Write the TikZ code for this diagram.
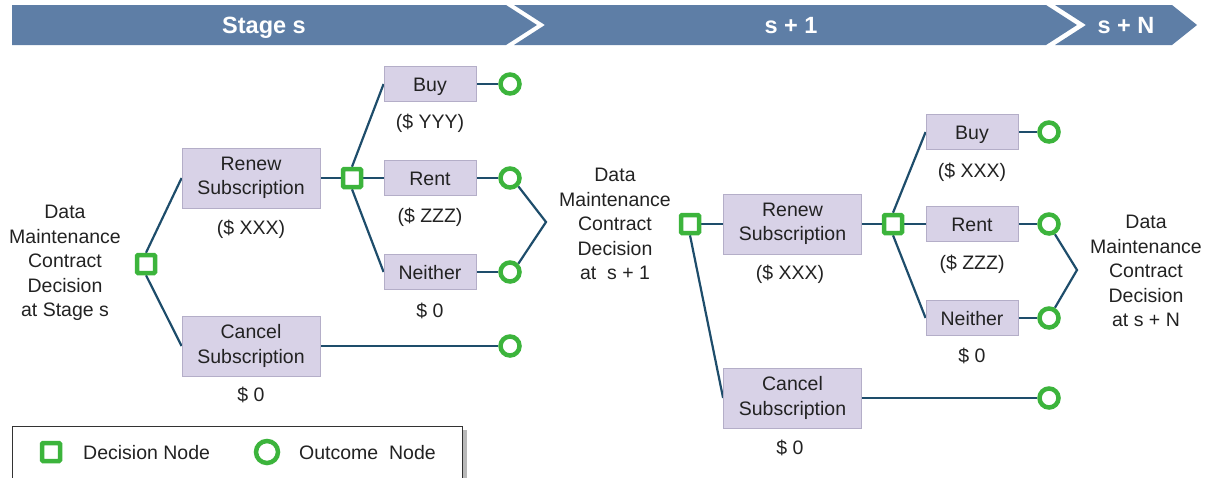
\documentclass[tikz,border=0pt]{standalone}
\usepackage{fontspec}
\setmainfont{Liberation Sans}
\usetikzlibrary{positioning}
\definecolor{dgreen}{HTML}{3CB43C}
\definecolor{lnavy}{HTML}{1E4D6B}
\definecolor{boxfill}{HTML}{D8D2E7}
\definecolor{boxline}{HTML}{B4AEC8}
\definecolor{banner}{HTML}{5E7EA6}
\definecolor{txt}{HTML}{222222}
\newcommand{\fsz}{\fontsize{19.5}{24.5}\selectfont}
\pgfdeclarelayer{bg}
\pgfsetlayers{bg,main}
\tikzset{
  optbox/.style={draw=boxline, fill=boxfill, line width=0.8pt, inner sep=0pt, font=\fsz, align=center, text=txt},
  bigbox/.style={optbox, minimum width=138pt, minimum height=60pt, execute at begin node={\rule{0pt}{22pt}}},
  smallbox/.style={optbox, minimum width=92pt, minimum height=35pt, text height=14pt, text depth=0pt},
  dec/.style={draw=dgreen, fill=white, line width=4.5pt, minimum size=18pt, inner sep=0pt, rounded corners=1pt},
  outc/.style={circle, draw=dgreen, fill=white, line width=4.5pt, minimum size=19pt, inner sep=0pt},
  mlbl/.style={font=\fsz, align=center, text=txt, inner sep=0pt},
  lbl/.style={mlbl, text height=14pt, text depth=0pt},
  conn/.style={draw=lnavy, line width=2.2pt},
  bannertxt/.style={font=\fontsize{23.5}{28}\selectfont\bfseries, text=white, inner sep=0pt, text height=17pt, text depth=0pt},
}
\begin{document}
\begin{tikzpicture}[x=1pt,y=-1pt]
\useasboundingbox (0,0) rectangle (1212,477);
\clip (0,0) rectangle (1212,477);
% banner
\fill[banner] (12,5) -- (506,5) -- (537,25) -- (506,45) -- (12,45) -- cycle;
\fill[banner] (514,5) -- (1046,5) -- (1077,25) -- (1046,45) -- (514,45) -- (545,25) -- cycle;
\fill[banner] (1055,5) -- (1172,5) -- (1197,25) -- (1172,45) -- (1055,45) -- (1086,25) -- cycle;
\node[bannertxt] (b1) at (264,25) {Stage s};
\node[bannertxt] (b2) at (791,25) {s + 1};
\node[bannertxt] (b3) at (1126,25) {s + N};

% stage s
\node[mlbl] (t1) at (65,263) {Data\\Maintenance\\Contract\\Decision\\at Stage s};
\node[dec] (d1) at (146,264) {};
\node[bigbox] (r1) at (251,178) {Renew\\Subscription};
\node[lbl] (r1c) at (251,227) {(\$ XXX)};
\node[bigbox] (k1) at (251,346) {Cancel\\Subscription};
\node[lbl] (k1c) at (251,394) {\$ 0};
\node[dec] (d2) at (352,178) {};
\node[smallbox] (buy1) at (430,84) {Buy};
\node[lbl] (buy1c) at (430,121) {(\$ YYY)};
\node[smallbox] (rent1) at (430,178) {Rent};
\node[lbl] (rent1c) at (430,215) {(\$ ZZZ)};
\node[smallbox] (nei1) at (430,272) {Neither};
\node[lbl] (nei1c) at (430,310) {\$ 0};
\node[outc] (o1) at (510,84) {};
\node[outc] (o2) at (510,178) {};
\node[outc] (o3) at (510,272) {};
\node[outc] (o4) at (510,346) {};
\coordinate (tip1) at (546,222);

% stage s+1
\node[mlbl] (t2) at (615,224) {Data\\Maintenance\\Contract\\Decision\\at\ \ s + 1};
\node[dec] (d3) at (690,224) {};
\node[bigbox] (r2) at (792.5,224) {Renew\\Subscription};
\node[lbl] (r2c) at (790,272) {(\$ XXX)};
\node[bigbox] (k2) at (792.5,398) {Cancel\\Subscription};
\node[lbl] (k2c) at (790,447) {\$ 0};
\node[dec] (d4) at (893,224) {};
\node[smallbox] (buy2) at (972,132) {Buy};
\node[lbl] (buy2c) at (972,170) {(\$ XXX)};
\node[smallbox] (rent2) at (972,224) {Rent};
\node[lbl] (rent2c) at (972,262) {(\$ ZZZ)};
\node[smallbox] (nei2) at (972,318) {Neither};
\node[lbl] (nei2c) at (972,355) {\$ 0};
\node[outc] (o5) at (1049,132) {};
\node[outc] (o6) at (1049,224) {};
\node[outc] (o7) at (1049,318) {};
\node[outc] (o8) at (1049,398) {};
\coordinate (tip2) at (1077,270);
\node[mlbl] (t3) at (1146,271) {Data\\Maintenance\\Contract\\Decision\\at s + N};

% connectors
\begin{pgfonlayer}{bg}
\draw[conn] (d1.north) -- (r1.west);
\draw[conn] (d1.south) -- (k1.west);
\draw[conn] (r1.east) -- (d2.west);
\draw[conn] (d2.north) -- (buy1.west);
\draw[conn] (d2.east) -- (rent1.west);
\draw[conn] (d2.south) -- (nei1.west);
\draw[conn] (buy1.east) -- (o1);
\draw[conn] (rent1.east) -- (o2);
\draw[conn] (nei1.east) -- (o3);
\draw[conn] (k1.east) -- (o4);
\draw[conn] (o2.-45) -- (tip1) -- (o3.45);
\draw[conn] (d3.east) -- (r2.west);
\draw[conn] (d3.south) -- (k2.west);
\draw[conn] (r2.east) -- (d4.west);
\draw[conn] (d4.north) -- (buy2.west);
\draw[conn] (d4.east) -- (rent2.west);
\draw[conn] (d4.south) -- (nei2.west);
\draw[conn] (buy2.east) -- (o5);
\draw[conn] (rent2.east) -- (o6);
\draw[conn] (nei2.east) -- (o7);
\draw[conn] (k2.east) -- (o8);
\draw[conn] (o6.-60) -- (tip2) -- (o7.60);
\end{pgfonlayer}

% legend
\fill[gray!55] (463,430) rectangle (467,490);
\draw[black!80, line width=1pt, fill=white] (12,426) rectangle (462,490);
\node[dec] (ld) at (51,452) {};
\node[lbl, anchor=west] (ldt) at (83,452) {Decision Node};
\node[outc, minimum size=22pt] (lo) at (267,452) {};
\node[lbl, anchor=west] (lot) at (299,452) {Outcome\ \ Node};
\end{tikzpicture}
\end{document}
